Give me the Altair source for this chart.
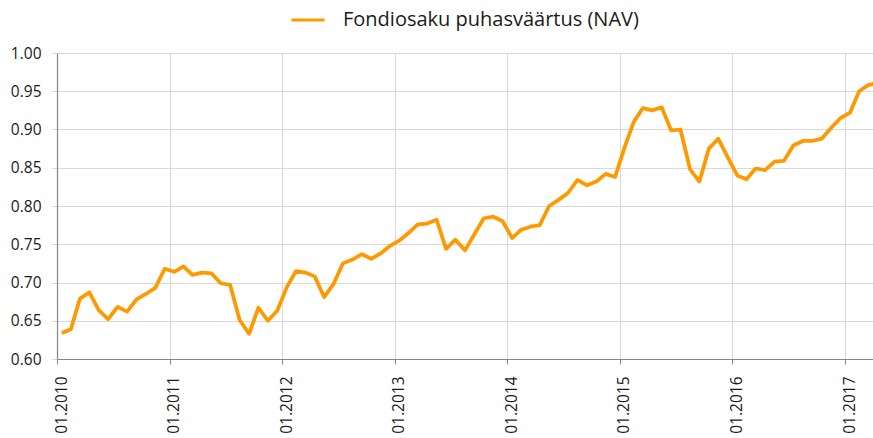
import altair as alt
import pandas as pd

series_name = "Fondiosaku puhasväärtus (NAV)"

# Monthly NAV values, Jan 2010 .. Apr 2017
nav_2010 = [0.634, 0.639, 0.679, 0.687, 0.664, 0.652, 0.668, 0.662, 0.678, 0.685, 0.693, 0.718]
nav_2011 = [0.714, 0.721, 0.710, 0.713, 0.712, 0.699, 0.697, 0.651, 0.633, 0.667, 0.650, 0.663]
nav_2012 = [0.694, 0.715, 0.713, 0.708, 0.681, 0.698, 0.725, 0.730, 0.737, 0.731, 0.738, 0.748]
nav_2013 = [0.755, 0.765, 0.776, 0.777, 0.782, 0.744, 0.756, 0.742, 0.763, 0.784, 0.786, 0.780]
nav_2014 = [0.758, 0.769, 0.773, 0.775, 0.800, 0.808, 0.817, 0.834, 0.827, 0.832, 0.842, 0.838]
nav_2015 = [0.877, 0.910, 0.928, 0.925, 0.929, 0.899, 0.900, 0.848, 0.832, 0.875, 0.888, 0.864]
nav_2016 = [0.840, 0.835, 0.849, 0.847, 0.858, 0.859, 0.879, 0.885, 0.885, 0.888, 0.902, 0.915]
nav_2017 = [0.922, 0.950, 0.958, 0.961]

nav = nav_2010 + nav_2011 + nav_2012 + nav_2013 + nav_2014 + nav_2015 + nav_2016 + nav_2017
months = [f"{y}-{m:02d}-01" for y in range(2010, 2018) for m in range(1, 13)][: len(nav)]

tick_years = [2010, 2011, 2012, 2013, 2014, 2015, 2016, 2017]
y_ticks = [0.60, 0.65, 0.70, 0.75, 0.80, 0.85, 0.90, 0.95, 1.00]

df = pd.DataFrame({"date": months, "nav": nav, "series": series_name})

FONT = "Open Sans"
ORANGE = "#FF9900"
GRID = "#D9D9D9"
AXIS = "#868686"

chart = (
    alt.Chart(df)
    .mark_line(strokeWidth=3.75, clip=True, strokeJoin="round")
    .encode(
        x=alt.X(
            "utcyearmonth(date):T",
            bandPosition=0.5,
            title=None,
            scale=alt.Scale(
                type="utc",
                domain=[
                    alt.DateTime(year=2010, month=1, date=1, utc=True),
                    alt.DateTime(year=2017, month=4, date=1, utc=True),
                ],
            ),
            axis=alt.Axis(
                values=[alt.DateTime(year=y, month=1, date=1, utc=True) for y in tick_years],
                format="%m.%Y",
                labelAngle=270,
                labelFont=FONT,
                labelFontSize=15.5,
                labelColor="#1a1a1a",
                labelPadding=12,
                labelOffset=4,
                grid=True,
                gridColor=GRID,
                gridWidth=1,
                domainColor=AXIS,
                domainWidth=1.2,
                tickColor=AXIS,
                tickSize=5,
                labelOverlap=False,
            ),
        ),
        y=alt.Y(
            "nav:Q",
            title=None,
            scale=alt.Scale(domain=[0.6, 1.0], nice=False, zero=False),
            axis=alt.Axis(
                values=y_ticks,
                format=".2f",
                labelFont=FONT,
                labelFontSize=15.5,
                labelColor="#1a1a1a",
                labelPadding=10,
                grid=True,
                gridColor=GRID,
                gridWidth=1,
                domainColor=AXIS,
                domainWidth=1.2,
                tickColor=GRID,
                tickSize=6,
            ),
        ),
        color=alt.Color(
            "series:N",
            scale=alt.Scale(range=[ORANGE]),
            legend=alt.Legend(
                title=None,
                orient="none",
                legendX=233,
                legendY=-51,
                symbolType="stroke",
                symbolSize=1089,
                symbolStrokeWidth=3,
                labelFont=FONT,
                labelFontSize=20,
                labelColor="#1a1a1a",
                labelOffset=17,
                labelLimit=500,
            ),
        ),
    )
    .properties(
        width=816,
        height=306,
        autosize=alt.AutoSizeParams(type="none"),
        padding={"left": 57, "top": 53, "right": 0, "bottom": 79},
    )
    .configure_view(stroke=None)
    .configure(background="white")
)

chart.save("out.html", embed_options={"renderer": "svg", "actions": False})
